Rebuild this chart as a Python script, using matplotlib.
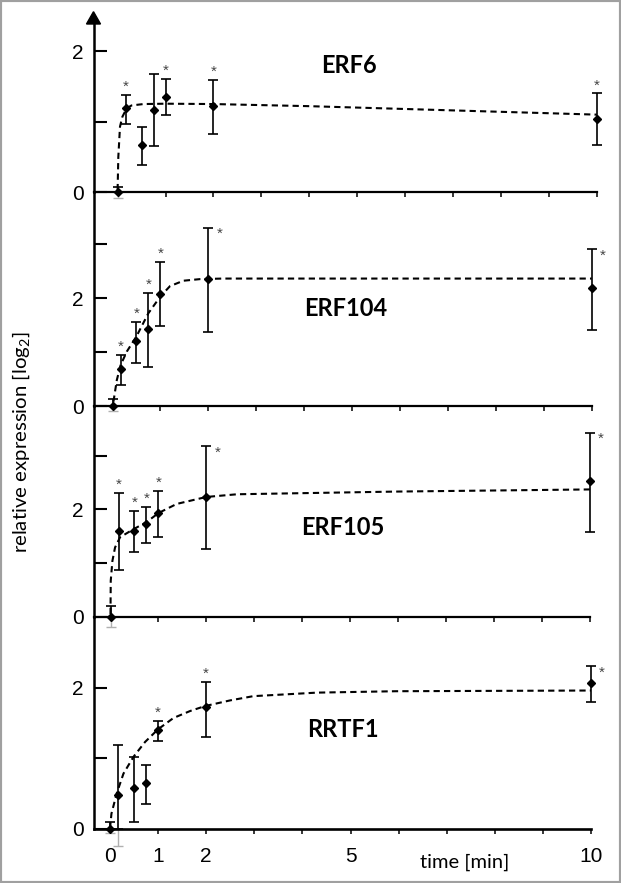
import matplotlib
matplotlib.use('Agg')
import matplotlib.pyplot as plt
from matplotlib.patches import Polygon, Rectangle

plt.rcParams['mathtext.fontset'] = 'custom'
plt.rcParams['mathtext.rm'] = 'Lato'
plt.rcParams['mathtext.it'] = 'Lato:italic'

# ---------------- data ----------------
times = [0, 0.17, 0.5, 0.75, 1, 2, 10]
genes = ['ERF6', 'ERF104', 'ERF105', 'RRTF1']

erf6_mean = [0, 1.19, 0.67, 1.165, 1.355, 1.22, 1.04]
erf6_hi = [0.08, 1.38, 0.92, 1.675, 1.61, 1.59, 1.40]
erf6_lo = [-0.08, 0.97, 0.39, 0.65, 1.10, 0.82, 0.675]
erf6_star = ['', 'a', '', '', 'a', 'a', 'a']
erf6_curve_t = [0, 0.015, 0.05, 0.1, 0.19, 0.29, 0.54, 1.0, 2.0, 4.0, 6.0, 8.0, 10.0]
erf6_curve_y = [0.03, 0.5, 0.93, 1.07, 1.19, 1.23, 1.25, 1.255, 1.25, 1.22, 1.18, 1.14, 1.10]

erf104_mean = [0, 0.685, 1.21, 1.42, 2.07, 2.36, 2.19]
erf104_hi = [0.13, 0.94, 1.56, 2.09, 2.67, 3.30, 2.90]
erf104_lo = [-0.1, 0.38, 0.80, 0.72, 1.48, 1.37, 1.41]
erf104_star = ['', 'a', 'a', 'a', 'a', 'r', 'r']
erf104_curve_t = [0.02, 0.09, 0.17, 0.3, 0.5, 0.75, 1.0, 1.2, 1.48, 1.83, 2.3, 10]
erf104_curve_y = [0.08, 0.48, 0.76, 1.01, 1.29, 1.72, 2.03, 2.22, 2.32, 2.35, 2.36, 2.36]

erf105_mean = [0, 1.59, 1.59, 1.72, 1.93, 2.23, 2.53]
erf105_hi = [0.2, 2.30, 1.97, 2.04, 2.35, 3.18, 3.43]
erf105_lo = [-0.2, 0.87, 1.20, 1.38, 1.48, 1.27, 1.57]
erf105_star = ['', 'a', 'a', 'a', 'a', 'r', 'r']
erf105_curve_t = [0.0, 0.005, 0.04, 0.095, 0.2, 0.48, 0.75, 1.0, 1.38, 2.0, 2.64, 5.95, 10]
erf105_curve_y = [0.05, 0.67, 1.04, 1.29, 1.48, 1.63, 1.76, 1.93, 2.10, 2.23, 2.28, 2.33, 2.37]

rrtf1_mean = [0, 0.48, 0.57, 0.65, 1.40, 1.72, 2.07]
rrtf1_hi = [0.09, 1.18, 1.02, 0.90, 1.53, 2.08, 2.31]
rrtf1_lo = [-0.06, -0.25, 0.09, 0.345, 1.25, 1.30, 1.79]
rrtf1_star = ['', '', '', '', 'a', 'a', 'r']
rrtf1_curve_t = [0, 0.03, 0.14, 0.28, 0.49, 0.73, 1.0, 1.32, 1.67, 1.98, 2.5, 2.98, 4.3, 5.95, 10]
rrtf1_curve_y = [0, 0.21, 0.50, 0.78, 1.02, 1.23, 1.41, 1.57, 1.67, 1.74, 1.82, 1.88, 1.93, 1.95, 1.96]

yticks = [[0, 1, 2], [0, 1, 2, 3], [0, 1, 2, 3], [0, 1, 2]]
ytick_labels = [['0', '', '2'], ['0', '', '2', ''], ['0', '', '2', ''], ['0', '', '2']]
xticks = [1, 2, 3, 4, 5, 6, 7, 8, 9, 10]
xtick_labels = ['1', '2', '', '', '5', '', '', '', '', '10']
name_pos = [(4.83, 1.79), (4.86, 1.81), (4.85, 1.67), (4.84, 1.40)]

series = [
    (erf6_mean, erf6_hi, erf6_lo, erf6_star, erf6_curve_t, erf6_curve_y),
    (erf104_mean, erf104_hi, erf104_lo, erf104_star, erf104_curve_t, erf104_curve_y),
    (erf105_mean, erf105_hi, erf105_lo, erf105_star, erf105_curve_t, erf105_curve_y),
    (rrtf1_mean, rrtf1_hi, rrtf1_lo, rrtf1_star, rrtf1_curve_t, rrtf1_curve_y),
]

# ---------------- layout (pixels) ----------------
W, H = 621, 883
AX_LEFT = 93.5
# (x of t=0, x of t=10, y of zero line, y of panel top, px per unit)
layout = [
    (117.6, 596.8, 192.3, 22.0, 70.6),
    (112.5, 591.7, 406.0, 192.3, 54.0),
    (110.5, 590.0, 616.7, 406.0, 53.7),
    (110.0, 591.0, 828.5, 616.7, 70.4),
]

fig = plt.figure(figsize=(W / 100, H / 100), dpi=100)
fig.patch.set_facecolor('white')

GREY = '#b0b0b0'
for i, (gname, (mean, hi, lo, star, ct, cy), (x0, x10, zero, top, unit)) in enumerate(
        zip(genes, series, layout)):
    ax = fig.add_axes([AX_LEFT / W, 1 - zero / H, (x10 - AX_LEFT) / W, (zero - top) / H])
    ax.patch.set_alpha(0)
    scale = (x10 - x0) / 10
    ax.set_xlim(-(x0 - AX_LEFT) / scale, 10)
    ax.set_ylim(0, (zero - top) / unit)
    for s in ['top', 'right']:
        ax.spines[s].set_visible(False)
    ax.spines['left'].set_linewidth(1.8)
    ax.spines['bottom'].set_linewidth(1.6 if i < 3 else 1.9)

    ax.set_yticks(yticks[i])
    ax.set_yticklabels(ytick_labels[i], fontfamily='Liberation Sans', fontsize=15)
    ax.tick_params(axis='y', direction='in', length=9, width=1.5, pad=7)
    ax.set_xticks(xticks)
    ax.tick_params(axis='x', direction='out', length=3.6, width=1.1)
    if i == 3:
        ax.set_xticklabels(xtick_labels, fontfamily='Liberation Sans', fontsize=15)
        ax.set_xticks([0], minor=True)
        ax.set_xticklabels(['0'], minor=True, fontfamily='Liberation Sans', fontsize=15)
        ax.tick_params(axis='x', which='major', pad=9.5)
        ax.tick_params(axis='x', which='minor', length=0, pad=13.1)
    else:
        ax.set_xticklabels([''] * len(xticks))

    # error bars
    for t, m, h, l, st in zip(times, mean, hi, lo, star):
        lb = max(l, 0)
        ax.errorbar([t], [m], yerr=[[m - lb], [h - m]], fmt='none', ecolor='black',
                    elinewidth=1.2, capsize=3.3, capthick=1.2, clip_on=False, zorder=3)
        if l < 0:
            ax.errorbar([t], [0], yerr=[[0 - l], [0]], fmt='none', ecolor=GREY,
                        elinewidth=1.0, capsize=3.3, capthick=1.0, clip_on=False, zorder=2)
        if st == 'a':
            ax.annotate('*', (t, h), xytext=(0, 3.0), textcoords='offset points',
                        ha='center', va='baseline', fontsize=11, color='#444444',
                        fontfamily='Liberation Sans', annotation_clip=False)
        elif st == 'r':
            ax.annotate('*', (t, h), xytext=(8, -7.5), textcoords='offset points',
                        ha='center', va='baseline', fontsize=11, color='#444444',
                        fontfamily='Liberation Sans', annotation_clip=False)
    ax.plot(ct, cy, color='black', lw=1.5, ls=(0, (3, 2)), clip_on=False, zorder=4)
    ax.plot(times, mean, 'D', ms=4, color='black', clip_on=False, zorder=5)

    nx, ny = name_pos[i]
    ax.text(nx, ny, gname, ha='center', va='center', fontsize=17, fontweight='bold',
            fontfamily='Lato')

# arrow head on top of y axis
tip_y, base_y, half_w = 11.7, 24.0, 7.0
arrow = Polygon([[AX_LEFT / W, 1 - tip_y / H],
                 [(AX_LEFT - half_w) / W, 1 - base_y / H],
                 [(AX_LEFT + half_w) / W, 1 - base_y / H]],
                closed=True, transform=fig.transFigure, color='black')
fig.add_artist(arrow)

fig.text(21 / W, 1 - 442 / H, r'relative expression [log$_\mathrm{2}$]', rotation=90,
         ha='center', va='center', fontsize=14.7, fontfamily='Lato')
fig.text(465 / W, 1 - 862 / H, 'time [min]', ha='center', va='center',
         fontsize=14.5, fontfamily='Lato')

fig.add_artist(Rectangle((0, 0), 1, 1, transform=fig.transFigure, fill=False,
                         ec='#a0a0a0', lw=3))

fig.savefig('out.png', dpi=100, facecolor='white')
